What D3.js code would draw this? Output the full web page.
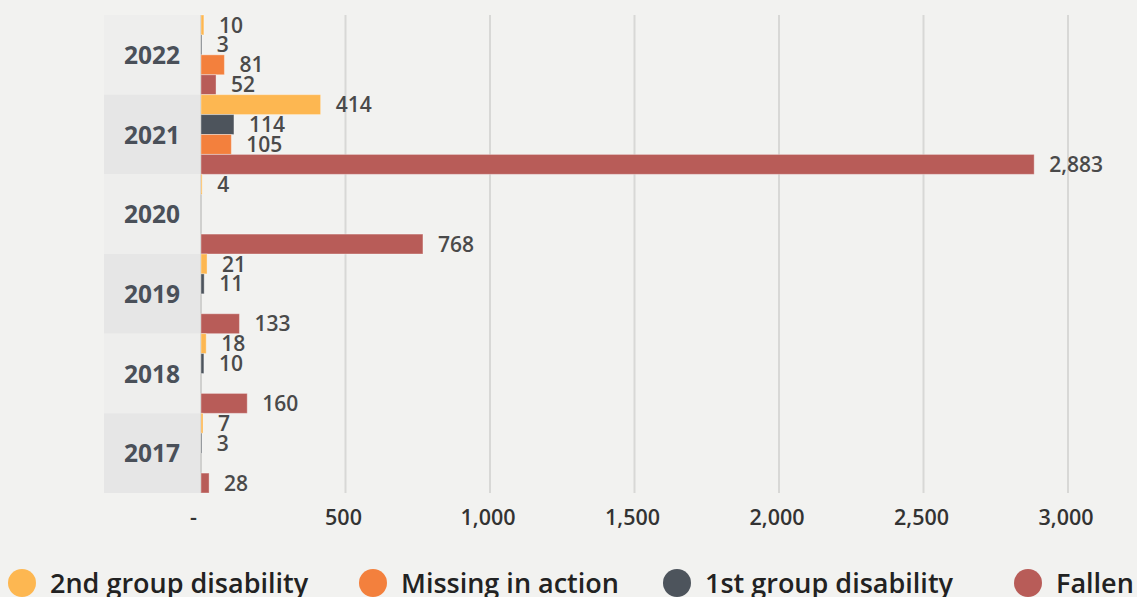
<!DOCTYPE html>
<html>
<head>
<meta charset="utf-8">
<script src="https://cdn.jsdelivr.net/npm/d3@7/dist/d3.min.js"></script>
<style>
  html, body { margin: 0; padding: 0; background: #f2f2f0; }
  svg { display: block; font-family: "Open Sans", sans-serif; }
</style>
</head>
<body>
<svg id="chart" width="1137" height="597"></svg>
<script>
// ---- data ----
const years = ["2022", "2021", "2020", "2019", "2018", "2017"];
const seriesNames = ["2nd group disability", "1st group disability", "Missing in action", "Fallen"];
const legendOrder = ["2nd group disability", "Missing in action", "1st group disability", "Fallen"];
const secondGroup = [10, 414, 4, 21, 18, 7];
const firstGroup = [3, 114, null, 11, 10, 3];
const missing = [81, 105, null, null, null, null];
const fallen = [52, 2883, 768, 133, 160, 28];
const xTicks = [0, 500, 1000, 1500, 2000, 2500, 3000];
const xTickLabels = ["-", "500", "1,000", "1,500", "2,000", "2,500", "3,000"];

const colors = {
  "2nd group disability": "#fdb751",
  "1st group disability": "#4d545c",
  "Missing in action": "#f3803d",
  "Fallen": "#b85c58"
};
const valuesBySeries = {
  "2nd group disability": secondGroup,
  "1st group disability": firstGroup,
  "Missing in action": missing,
  "Fallen": fallen
};

const svg = d3.select("#chart");
const x = d3.scaleLinear().domain([0, 3000]).range([201, 1068]);
const y = d3.scaleBand().domain(years).range([15, 493]).padding(0);
const ySub = d3.scaleBand().domain(seriesNames).range([0, y.bandwidth()]).padding(0);

// year label column backgrounds
svg.append("g").selectAll("rect").data(years).join("rect")
  .attr("x", 104).attr("width", 97)
  .attr("y", d => y(d)).attr("height", y.bandwidth())
  .attr("fill", (d, i) => i % 2 === 0 ? "#eeeeed" : "#e6e6e6");

// gridlines
svg.append("g").selectAll("line").data(xTicks.slice(1)).join("line")
  .attr("x1", d => x(d)).attr("x2", d => x(d))
  .attr("y1", 15).attr("y2", 493)
  .attr("stroke", "#d8d8d6").attr("stroke-width", 2);

// axis line at zero
svg.append("line")
  .attr("x1", x(0)).attr("x2", x(0)).attr("y1", 15).attr("y2", 493)
  .attr("stroke", "#d0d0ce").attr("stroke-width", 2);

// year labels
svg.append("g").selectAll("text").data(years).join("text")
  .attr("x", 152).attr("y", d => y(d) + y.bandwidth() / 2)
  .attr("dy", "0.38em")
  .attr("text-anchor", "middle")
  .attr("font-size", 24.5).attr("font-weight", 700)
  .attr("fill", "#4a5059")
  .text(d => d);

// bars
const flat = [];
years.forEach((yr, i) => {
  seriesNames.forEach(s => {
    const v = valuesBySeries[s][i];
    if (v !== null && v !== undefined) flat.push({ year: yr, series: s, value: v });
  });
});

const bars = svg.append("g");
bars.selectAll("rect").data(flat).join("rect")
  .attr("x", x(0))
  .attr("y", d => y(d.year) + ySub(d.series))
  .attr("width", d => Math.max(0.8, x(d.value) - x(0)))
  .attr("height", ySub.bandwidth())
  .attr("fill", d => colors[d.series])
  .attr("stroke", "rgba(255,255,255,0.35)")
  .attr("stroke-width", 1);

// value labels
svg.append("g").selectAll("text").data(flat).join("text")
  .attr("x", d => x(d.value) + 15)
  .attr("y", d => y(d.year) + ySub(d.series) + ySub.bandwidth() / 2)
  .attr("dy", "0.36em")
  .attr("font-size", 21).attr("font-weight", 600)
  .attr("fill", "#4a4a4a")
  .text(d => d3.format(",")(d.value));

// x axis tick labels
const xAxis = d3.axisBottom(x).tickValues(xTicks)
  .tickFormat((d, i) => xTickLabels[i]).tickSize(0).tickPadding(0);
const ax = svg.append("g").attr("transform", "translate(-2.5,0)").call(xAxis);
ax.select(".domain").remove();
ax.selectAll("text")
  .attr("y", 517).attr("dy", "0.36em")
  .attr("dx", (d, i) => i === 0 ? -5.5 : 0)
  .attr("font-family", "Open Sans, sans-serif")
  .attr("font-size", 21.5).attr("font-weight", 600)
  .attr("fill", "#333333");

// legend
const legendX = [22, 373, 677, 1028];
const lg = svg.append("g").selectAll("g").data(legendOrder).join("g")
  .attr("transform", (d, i) => `translate(${legendX[i]},583)`);
lg.append("circle").attr("r", 14).attr("fill", d => colors[d]);
lg.append("text").attr("x", 28).attr("dy", "0.36em")
  .attr("font-size", 27).attr("font-weight", 600)
  .attr("fill", "#222222")
  .text(d => d);
</script>
</body>
</html>
